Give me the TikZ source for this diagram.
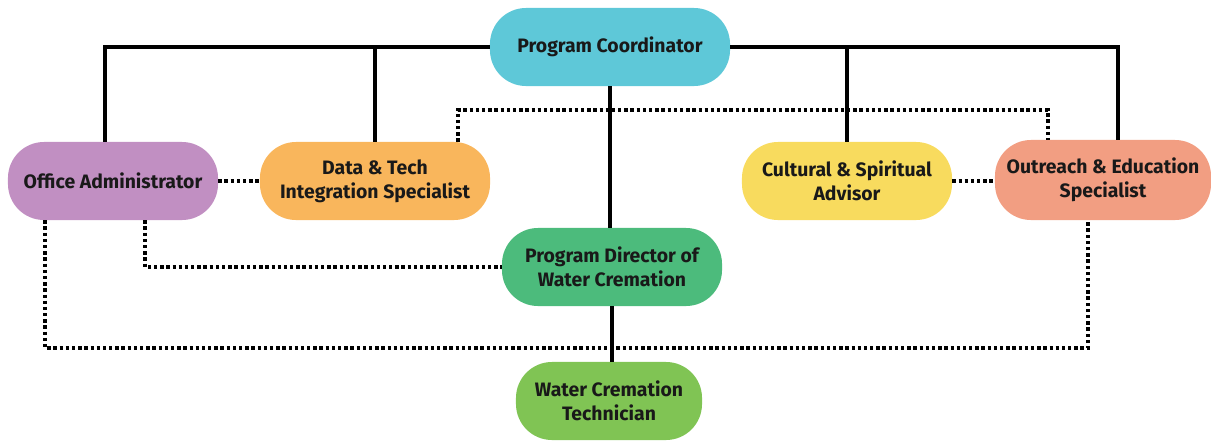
\documentclass[tikz,border=0pt]{standalone}
\usepackage{fontspec}
\setmainfont{Fira Sans}
\usetikzlibrary{calc}

\definecolor{coordcyan}{HTML}{5EC8D8}
\definecolor{adminpurple}{HTML}{C18FC2}
\definecolor{dataorange}{HTML}{F9B65C}
\definecolor{cultyellow}{HTML}{F8DB5E}
\definecolor{outsalmon}{HTML}{F29E82}
\definecolor{dirgreen}{HTML}{4CBB7C}
\definecolor{techgreen}{HTML}{80C454}

\tikzset{
  rolebox/.style={rounded corners=0.9cm, minimum height=1.95cm, align=center,
    font=\fontsize{13.8}{17}\selectfont\bfseries, text=black!90, inner sep=1pt},
  solidlink/.style={line width=2.4pt, black},
  dotlink/.style={line width=2.6pt, black, dash pattern=on 2.4pt off 2pt}
}

\begin{document}
\begin{tikzpicture}[x=0.025cm, y=-0.025cm]

  % Fix the page to the size of the reference
  \useasboundingbox (0,0) rectangle (1211,441);

  % The roles
  \node[rolebox, fill=coordcyan, minimum width=6cm] (coord) at (610,47) {Program Coordinator};
  \node[rolebox, fill=adminpurple, minimum width=5.25cm] (admin) at (113,181) {Office Administrator};
  \node[rolebox, fill=dataorange, minimum width=5.75cm] (data) at (375,181) {Data \& Tech\\Integration Specialist};
  \node[rolebox, fill=cultyellow, minimum width=5.25cm] (cult) at (847,181) {Cultural \& Spiritual\\Advisor};
  \node[rolebox, fill=outsalmon, minimum width=5.4cm, minimum height=2cm] (outreach) at (1103,180) {Outreach \& Education\\Specialist};
  \node[rolebox, fill=dirgreen, minimum width=5.5cm] (director) at (612,267) {Program Director of\\Water Cremation};
  \node[rolebox, fill=techgreen, minimum width=4.65cm] (tech) at (609,401) {Water Cremation\\Technician};

  % Heights of the dotted runs
  \coordinate (highrun) at (0,110);
  \coordinate (lowrun) at (0,348);

  % Reporting lines (solid)
  \draw[solidlink] (coord.west) -| ([xshift=-0.2cm]admin.north);
  \draw[solidlink] (coord.west) -| (data.north);
  \draw[solidlink] (coord.east) -| (cult.north);
  \draw[solidlink] (coord.east) -| ([xshift=0.375cm]outreach.north);
  \draw[solidlink] (coord.south) -- (coord.south |- director.north);
  \draw[solidlink] (director.south) -- (director.south |- tech.north);

  % Working links (dotted)
  \draw[dotlink] (admin.east) -- (data.west);
  \draw[dotlink] (cult.east) -- (cult.east -| outreach.west);
  \coordinate (dataup) at ([xshift=2.075cm]data.north);
  \draw[dotlink] (dataup) -- (dataup |- highrun) -| ([xshift=-1.375cm]outreach.north);
  \draw[dotlink] ([xshift=0.8cm]admin.south) |- (director.west);
  \coordinate (admindown) at ([xshift=-1.7cm]admin.south);
  \draw[dotlink] (admindown) -- (admindown |- lowrun) -| ([xshift=-0.375cm]outreach.south);

\end{tikzpicture}
\end{document}
